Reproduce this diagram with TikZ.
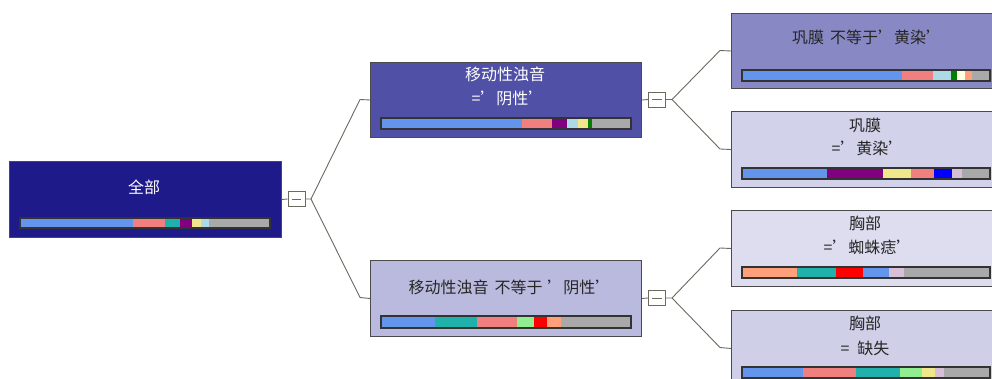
\documentclass[tikz,border=0pt]{standalone}
\usepackage{fontspec}
\setmainfont{Noto Sans CJK SC}
\definecolor{fillroot}{HTML}{1E1A8A}
\definecolor{filltm}{HTML}{5050A6}
\definecolor{filltr}{HTML}{8888C4}
\definecolor{fillbm}{HTML}{BABADF}
\definecolor{fillr2}{HTML}{D2D2EA}
\definecolor{fillr3}{HTML}{DDDDEF}
\definecolor{fillr4}{HTML}{CFCFE8}
\definecolor{boxline}{HTML}{4A4A4A}
\definecolor{conline}{HTML}{6A6A60}
\definecolor{cblue}{HTML}{6495ED}
\definecolor{csalmon}{HTML}{F08080}
\definecolor{cteal}{HTML}{20B2AA}
\definecolor{cpurple}{HTML}{800080}
\definecolor{ckhaki}{HTML}{F0E68C}
\definecolor{clblue}{HTML}{ADD8E6}
\definecolor{cgray}{HTML}{A9A9A9}
\definecolor{cgreen}{HTML}{008000}
\definecolor{clgreen}{HTML}{90EE90}
\definecolor{cred}{HTML}{FF0000}
\definecolor{clsalmon}{HTML}{FFA07A}
\definecolor{cthistle}{HTML}{D8BFD8}
\definecolor{cbblue}{HTML}{0000FF}
\definecolor{ccream}{HTML}{FFFFE0}
\newcommand{\segbar}[5]{%
  \gdef\prevx{#1}%
  \foreach \xe/\cc in {#5}{\fill[\cc] (\prevx,#3) rectangle (\xe,#4); \xdef\prevx{\xe}}%
  \draw[barframe] (#1,#3) rectangle (#2,#4);%
}
\begin{document}
\begin{tikzpicture}[x=1pt,y=-1pt,
  treebox/.style={rectangle,draw=boxline,line width=1pt,anchor=north west,inner sep=0pt},
  lbl/.style={font=\fontsize{16}{18}\selectfont,inner sep=0pt},
  barframe/.style={draw=black!80,line width=1.1pt},
  cbox/.style={rectangle,draw=conline,line width=0.9pt,fill=white,minimum width=17pt,minimum height=15pt,inner sep=0pt},
  con/.style={draw=conline,line width=0.9pt}]
\useasboundingbox (0,0) rectangle (992,379);
\clip (0,0) rectangle (992,379);
\fill[white] (0,0) rectangle (992,379);
% boxes
\node[treebox,fill=fillroot,minimum width=272pt,minimum height=76pt] (root) at (9,161) {};
\node[treebox,fill=filltm,minimum width=271pt,minimum height=75pt] (tm) at (370,62) {};
\node[treebox,fill=fillbm,minimum width=271pt,minimum height=76pt] (bm) at (370,260) {};
\node[treebox,fill=filltr,minimum width=280pt,minimum height=75pt] (r1) at (731,13) {};
\node[treebox,fill=fillr2,minimum width=280pt,minimum height=76pt] (r2) at (731,111) {};
\node[treebox,fill=fillr3,minimum width=280pt,minimum height=76pt] (r3) at (731,210) {};
\node[treebox,fill=fillr4,minimum width=280pt,minimum height=76pt] (r4) at (731,310) {};
% labels
\node[lbl,text=white] (troot) at (144,187) {全部};
\node[lbl,text=white] (ttm1) at (505,74) {移动性浊音};
\node[lbl,text=white] (ttm2) at (508,98) {=’阴性’};
\node[lbl,text=black!85] (tbm) at (510,287) {移动性浊音\hspace{6pt}不等于\hspace{5pt}’阴性’};
\node[lbl,text=black!85] (tr1) at (867,37) {巩膜\hspace{6pt}不等于’黄染’};
\node[lbl,text=black!85] (tr2a) at (865,125) {巩膜};
\node[lbl,text=black!85] (tr2b) at (868,148) {=’黄染’};
\node[lbl,text=black!85] (tr3a) at (865,223) {胸部};
\node[lbl,text=black!85] (tr3b) at (868,247) {=’蜘蛛痣’};
\node[lbl,text=black!85] (tr4a) at (865,323) {胸部};
\node[lbl,text=black!85] (tr4b) at (865,348) {=\hspace{8pt}缺失};
% bars
\segbar{20}{270}{218}{228}{133/cblue,165/csalmon,180/cteal,192/cpurple,201/ckhaki,209/clblue,270/cgray}
\segbar{381}{631}{118}{129}{522/cblue,552/csalmon,567/cpurple,578/clblue,588/ckhaki,592/cgreen,631/cgray}
\segbar{381}{631}{316}{328}{435/cblue,477/cteal,517/csalmon,534/clgreen,547/cred,561/clsalmon,631/cgray}
\segbar{742}{990}{70}{81}{902/cblue,933/csalmon,951/clblue,957/cgreen,965/ccream,972/clsalmon,990/cgray}
\segbar{742}{990}{168}{179}{827/cblue,883/cpurple,911/ckhaki,934/csalmon,952/cbblue,962/cthistle,990/cgray}
\segbar{742}{990}{267}{278}{797/clsalmon,836/cteal,863/cred,889/cblue,904/cthistle,990/cgray}
\segbar{742}{990}{367}{378}{803/cblue,856/csalmon,900/cteal,922/clgreen,935/ckhaki,944/cthistle,990/cgray}
% collapse boxes
\node[cbox] (c0) at (296.5,199) {};
\node[cbox] (c1) at (657,99.5) {};
\node[cbox] (c2) at (657,298) {};
\foreach \c in {c0,c1,c2}{\draw[con] ([xshift=4pt]\c.west) -- ([xshift=-4pt]\c.east);}
% fork and bend coordinates
\coordinate (f0) at (311,199);
\coordinate (b0a) at (360,99.5);
\coordinate (b0b) at (360,297.5);
\coordinate (f1) at (672,99.5);
\coordinate (b1a) at (720,50.5);
\coordinate (b1b) at (720,149);
\coordinate (f2) at (672,298);
\coordinate (b2a) at (720,248);
\coordinate (b2b) at (720,347.5);
% connectors
\draw[con] (root.east) -- (c0.west);
\draw[con] (c0.east) -- (f0) -- (b0a) -- (tm.west);
\draw[con] (f0) -- (b0b) -- (bm.west);
\draw[con] (tm.east) -- (c1.west);
\draw[con] (c1.east) -- (f1) -- (b1a) -- (r1.west);
\draw[con] (f1) -- (b1b) -- (r2.west);
\draw[con] (bm.east) -- (c2.west);
\draw[con] (c2.east) -- (f2) -- (b2a) -- (r3.west);
\draw[con] (f2) -- (b2b) -- (r4.west);
\end{tikzpicture}
\end{document}
